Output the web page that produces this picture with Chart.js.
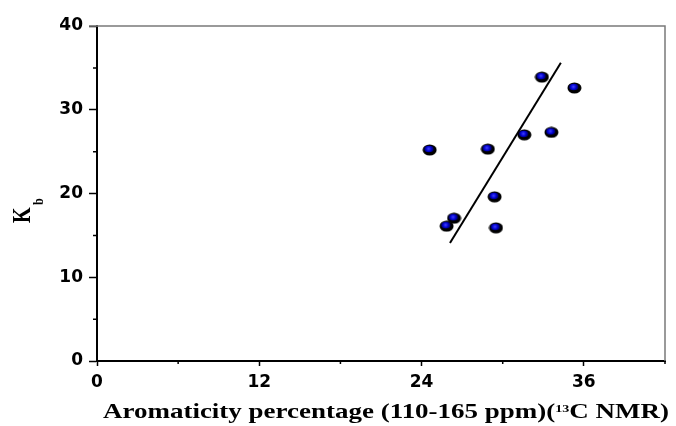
<!DOCTYPE html>
<html>
<head>
<meta charset="utf-8">
<script src="https://cdn.jsdelivr.net/npm/chart.js@4"></script>
<style>
  html, body { margin: 0; padding: 0; background: #fff; }
</style>
</head>
<body>
<canvas id="chart" width="676" height="426"></canvas>
<script>
// values
const aromaticity = [24.6, 28.9, 31.6, 33.6, 32.9, 35.3, 29.4, 26.4, 25.85, 29.5];
const kb = [25.2, 25.3, 27.0, 27.3, 33.9, 32.6, 19.6, 17.05, 16.1, 15.9];
const fitX = [26.1, 34.3];
const fitY = [14.1, 35.6];

const xTicks = [0, 12, 24, 36];
const xMinor = [6, 18, 30, 42];
const yTicks = [0, 10, 20, 30, 40];
const yMinor = [5, 15, 25, 35];

// x title in three pieces so the 13 can sit raised
const xTitleParts = ["Aromaticity percentage (110-165 ppm)(", "13", "C NMR)"];
const yTitleParts = ["K", "b"];

// blue ball marker (the original image is stretched sideways)
const dot = document.createElement("canvas");
dot.width = 15; dot.height = 12;
const d = dot.getContext("2d");
d.fillStyle = "#000";
d.beginPath(); d.ellipse(7.5, 6, 7, 5.5, 0, 0, 2 * Math.PI); d.fill();
const g = d.createRadialGradient(6.5, 4.8, 0, 6.5, 4.8, 4.5);
g.addColorStop(0, "#4040ff");
g.addColorStop(0.6, "#0000cc");
g.addColorStop(1, "#00006a");
d.fillStyle = g;
d.beginPath(); d.ellipse(6.8, 5, 4.6, 3.3, 0, 0, 2 * Math.PI); d.fill();

const serif = "'Liberation Serif', 'Times New Roman', serif";

const extras = {
  id: "extras",
  afterDraw(chart) {
    const ctx = chart.ctx;
    const { left, right, top, bottom } = chart.chartArea;
    const xs = chart.scales.x, ys = chart.scales.y;
    ctx.save();
    // frame top / right
    ctx.strokeStyle = "#7a7a7a";
    ctx.lineWidth = 1.5;
    ctx.beginPath();
    ctx.moveTo(left - 8, top); ctx.lineTo(right, top); ctx.lineTo(right, bottom);
    ctx.stroke();
    // minor ticks
    ctx.strokeStyle = "#000";
    ctx.lineWidth = 1.5;
    ctx.beginPath();
    xMinor.forEach(v => {
      const px = xs.getPixelForValue(v);
      ctx.moveTo(px, bottom); ctx.lineTo(px, bottom + 3);
    });
    yMinor.forEach(v => {
      const py = ys.getPixelForValue(v);
      ctx.moveTo(left, py); ctx.lineTo(left - 4, py);
    });
    ctx.stroke();
    ctx.restore();

    // x title, stretched to the width of the original
    ctx.save();
    ctx.fillStyle = "#000";
    ctx.textBaseline = "alphabetic";
    ctx.textAlign = "left";
    const big = "bold 21px " + serif, small = "bold 11px " + serif;
    ctx.font = big;
    const w0 = ctx.measureText(xTitleParts[0]).width;
    const w2 = ctx.measureText(xTitleParts[2]).width;
    ctx.font = small;
    const w1 = ctx.measureText(xTitleParts[1]).width;
    const total = w0 + w1 + w2;
    const sx = 566 / total;
    ctx.translate(386 - 283, 418);
    ctx.scale(sx, 1);
    ctx.font = big;
    ctx.fillText(xTitleParts[0], 0, 0);
    ctx.font = small;
    ctx.fillText(xTitleParts[1], w0, -6);
    ctx.font = big;
    ctx.fillText(xTitleParts[2], w0 + w1, 0);
    ctx.restore();

    // y title K with subscript b
    ctx.save();
    ctx.fillStyle = "#000";
    ctx.textBaseline = "alphabetic";
    ctx.textAlign = "left";
    ctx.translate(21, 215);
    ctx.rotate(-Math.PI / 2);
    ctx.scale(1, 1.3);
    ctx.font = "bold 20px " + serif;
    ctx.fillText(yTitleParts[0], -8, 6.9);
    ctx.font = "bold 12px " + serif;
    ctx.fillText(yTitleParts[1], 10, 16.9);
    ctx.restore();
  }
};

new Chart("chart", {
  type: "scatter",
  data: {
    datasets: [{
      data: aromaticity.map((x, i) => ({ x: x, y: kb[i] })),
      pointStyle: dot,
      pointRadius: 7,
      order: 1
    }, {
      type: "line",
      data: fitX.map((x, i) => ({ x: x, y: fitY[i] })),
      borderColor: "#000",
      borderWidth: 2,
      pointRadius: 0,
      fill: false,
      order: 2
    }]
  },
  options: {
    responsive: false,
    animation: false,
    layout: { padding: { top: 26, right: 11, left: 0, bottom: 0 } },
    plugins: {
      legend: { display: false },
      tooltip: { enabled: false }
    },
    scales: {
      x: {
        type: "linear",
        min: 0,
        max: 42,
        afterBuildTicks: s => { s.ticks = xTicks.map(v => ({ value: v })); },
        afterFit: s => { s.height = 65; s.paddingLeft = 0; s.paddingRight = 0; },
        grid: { drawOnChartArea: false, tickLength: 5, tickColor: "#000", tickWidth: 1.5 },
        border: { color: "#000", width: 2 },
        ticks: {
          color: "#000",
          font: { family: "'DejaVu Sans'", size: 17, weight: "bold" },
          padding: 6,
          maxRotation: 0
        }
      },
      y: {
        min: 0,
        max: 40,
        afterBuildTicks: s => { s.ticks = yTicks.map(v => ({ value: v })); },
        afterFit: s => { s.width = 97; },
        grid: { drawOnChartArea: false, tickLength: 8, tickColor: "#000", tickWidth: 1.5 },
        border: { color: "#000", width: 2 },
        ticks: {
          color: "#000",
          font: { family: "'DejaVu Sans'", size: 17, weight: "bold" },
          padding: 6
        }
      }
    }
  },
  plugins: [extras]
});
</script>
</body>
</html>
